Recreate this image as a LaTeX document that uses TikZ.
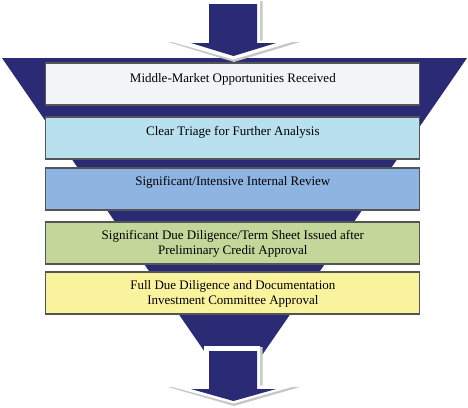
\documentclass[tikz,border=0pt]{standalone}
\usepackage{fontspec}
\setmainfont{Liberation Serif}
\definecolor{navy}{HTML}{2B2A74}
\definecolor{bordergray}{HTML}{555555}
\definecolor{cone}{HTML}{F3F4F8}
\definecolor{ctwo}{HTML}{B8E0EE}
\definecolor{cthree}{HTML}{8EB4E2}
\definecolor{cfour}{HTML}{C4D79B}
\definecolor{cfive}{HTML}{FAF39E}
\tikzset{
  stagebox/.style={draw=bordergray, line width=1.1pt, minimum width=374pt, minimum height=42pt, inner sep=0pt, anchor=north, outer sep=0pt},
  stagetext/.style={anchor=north, inner sep=0pt, align=center, font=\fontsize{13}{15.5}\selectfont, text=black},
  arrowshade/.style={fill=black!22},
  arrowrim/.style={fill=white},
  arrowcore/.style={fill=navy},
}
\begin{document}
\begin{tikzpicture}[x=1pt,y=-1pt]
\useasboundingbox (0,0) rectangle (468,407);
% funnel
\fill[navy] (2,58) -- (467,58) -- (234.5,395) -- cycle;
% top arrow
\fill[arrowshade] (205,1) -- (262.5,1) -- (262.5,42) -- (300,42) -- (234,62) -- (168,42) -- (205,42) -- cycle;
\fill[arrowrim] (204,0) -- (260,0) -- (260,40.5) -- (297,40.5) -- (233.5,59.5) -- (167,40.5) -- (204,40.5) -- cycle;
\fill[arrowcore] (209,4) -- (257,4) -- (257,43) -- (276,43) -- (233.5,56) -- (191,43) -- (209,43) -- cycle;
% stage boxes
\node[stagebox, fill=cone] (b1) at (232.85,63) {};
\node[stagebox, fill=ctwo] (b2) at (232.85,117) {};
\node[stagebox, fill=cthree] (b3) at (232.85,168) {};
\node[stagebox, fill=cfour] (b4) at (232.85,222) {};
\node[stagebox, fill=cfive] (b5) at (232.85,272) {};
\node[stagetext] (t1) at ([yshift=-10pt]b1.north) {Middle-Market Opportunities Received};
\node[stagetext] (t2) at ([yshift=-9pt]b2.north) {Clear Triage for Further Analysis};
\node[stagetext] (t3) at ([yshift=-8pt]b3.north) {Significant/Intensive Internal Review};
\node[stagetext] (t4) at ([yshift=-8pt]b4.north) {Significant Due Diligence/Term Sheet Issued after\\Preliminary Credit Approval};
\node[stagetext] (t5) at ([yshift=-8pt]b5.north) {Full Due Diligence and Documentation\\Investment Committee Approval};
% bottom arrow
\fill[arrowshade] (205,347) -- (262.5,347) -- (262.5,387) -- (300,387) -- (234,406) -- (168,387) -- (205,387) -- cycle;
\fill[arrowrim] (204,346) -- (260,346) -- (260,385.5) -- (297,385.5) -- (233.5,403.5) -- (167,385.5) -- (204,385.5) -- cycle;
\fill[arrowcore] (209,351) -- (257,351) -- (257,389) -- (276,389) -- (233.5,401) -- (191,389) -- (209,389) -- cycle;
\end{tikzpicture}
\end{document}
